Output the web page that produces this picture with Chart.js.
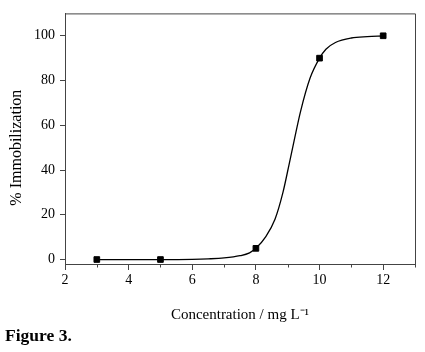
<!DOCTYPE html>
<html>
<head>
<meta charset="utf-8">
<script src="https://cdn.jsdelivr.net/npm/chart.js@4.4.0/dist/chart.umd.min.js"></script>
<style>
  html, body { margin: 0; padding: 0; background: #fff; }
  #wrap { position: relative; width: 425px; height: 352px; }
  #c { position: absolute; left: 0; top: 0; }
  #fig { position: absolute; left: 5px; top: 327px; font: bold 17.5px 'Liberation Serif', 'Times New Roman', serif; line-height: 17px; color: #000; }
</style>
</head>
<body>
<div id="wrap">
  <canvas id="c" width="425" height="352"></canvas>
  <div id="fig">Figure 3.</div>
</div>
<script>
// Measured points (squares)
const concentration = [3, 5, 8, 10, 12];
const immobilization = [0, 0, 5, 90, 100];

// Fitted curve
const fitX = [3, 5, 6, 6.5, 7, 7.5, 7.8, 8, 8.3, 8.6, 8.85, 9.05, 9.2, 9.4, 9.7, 10, 10.2, 10.5, 11, 11.5, 12];
const fitY = [0, 0, 0.1, 0.3, 0.7, 1.7, 3, 5, 10, 18, 30, 43, 53, 66, 81, 90, 94, 97, 99, 99.6, 99.9];

// Axis ticks
const xTicks = [2, 4, 6, 8, 10, 12];
const xMinorTicks = [3, 5, 7, 9, 11, 13];
const yTicks = [0, 20, 40, 60, 80, 100];
const yTitle = '% Immobilization';

const serif = "'Liberation Serif', 'Times New Roman', serif";
const axisColor = '#444';

const framePlugin = {
  id: 'frame',
  afterDatasetsDraw(chart) {
    const { ctx, chartArea: a, scales } = chart;
    ctx.save();
    ctx.strokeStyle = axisColor;
    ctx.lineWidth = 1;
    ctx.beginPath();
    ctx.moveTo(a.left, a.top + 0.5);
    ctx.lineTo(a.right + 0.5, a.top + 0.5);
    ctx.lineTo(a.right + 0.5, a.bottom);
    ctx.stroke();
    // minor ticks on x axis
    ctx.beginPath();
    xMinorTicks.forEach(v => {
      const px = Math.round(scales.x.getPixelForValue(v)) + 0.5;
      ctx.moveTo(px, a.bottom);
      ctx.lineTo(px, a.bottom + 3.5);
    });
    ctx.stroke();
    // y axis title, centred on the 0-100 span
    const yMid = (scales.y.getPixelForValue(yTicks[0]) + scales.y.getPixelForValue(yTicks[yTicks.length - 1])) / 2;
    ctx.translate(17, yMid);
    ctx.rotate(-Math.PI / 2);
    ctx.fillStyle = '#000';
    ctx.font = "16px " + serif;
    ctx.textAlign = 'center';
    ctx.textBaseline = 'middle';
    ctx.fillText(yTitle, 0, 0);
    ctx.restore();
  }
};

new Chart(document.getElementById('c'), {
  type: 'scatter',
  data: {
    datasets: [
      {
        label: 'fit',
        data: fitX.map((x, i) => ({ x, y: fitY[i] })),
        showLine: true,
        borderColor: '#000',
        borderWidth: 1.3,
        pointRadius: 0,
        cubicInterpolationMode: 'monotone',
        fill: false
      },
      {
        label: 'data',
        data: concentration.map((x, i) => ({ x, y: immobilization[i] })),
        pointStyle: 'rect',
        pointRadius: 4,
        backgroundColor: '#000',
        borderColor: '#000',
        borderWidth: 1,
        showLine: false
      }
    ]
  },
  options: {
    responsive: false,
    animation: false,
    devicePixelRatio: 1,
    layout: { padding: { left: 0, right: 10, top: 5, bottom: 22 } },
    plugins: { legend: { display: false }, tooltip: { enabled: false } },
    scales: {
      x: {
        type: 'linear',
        min: 2,
        max: 13,
        afterBuildTicks: s => { s.ticks = xTicks.map(v => ({ value: v })); },
        afterFit: s => { s.height = 66; },
        grid: { drawOnChartArea: false, tickLength: 6, color: axisColor },
        border: { color: axisColor, width: 1 },
        ticks: { color: '#000', font: { family: serif, size: 14 }, padding: 2, maxRotation: 0 },
        title: {
          display: true,
          text: 'Concentration / mg L\u207B\u00B9',
          color: '#000',
          font: { family: serif, size: 15 },
          padding: { top: 0, bottom: 6 }
        }
      },
      y: {
        type: 'linear',
        min: -2,
        max: 110,
        afterBuildTicks: s => { s.ticks = yTicks.map(v => ({ value: v })); },
        afterFit: s => { s.width = 65; },
        grid: { drawOnChartArea: false, tickLength: 5, color: axisColor },
        border: { color: axisColor, width: 1 },
        ticks: { color: '#000', font: { family: serif, size: 14 }, padding: 5 },
        title: { display: false }
      }
    }
  },
  plugins: [framePlugin]
});
</script>
</body>
</html>
